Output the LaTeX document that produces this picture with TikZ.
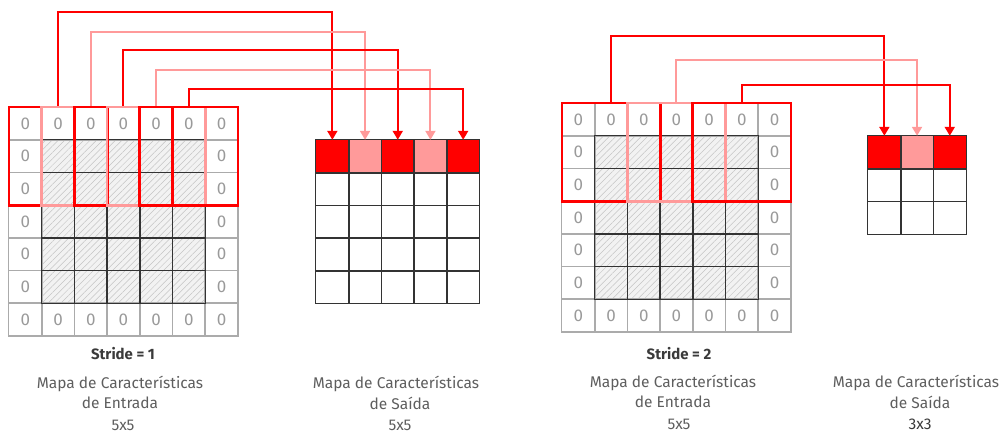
\documentclass[tikz,border=0pt]{standalone}
\usepackage{fontspec}
\setmainfont{Fira Sans}
\usetikzlibrary{arrows.meta,patterns.meta,fit}
\definecolor{kred}{HTML}{FF0000}
\definecolor{kpink}{HTML}{FF9A9A}
\definecolor{zgray}{HTML}{9A9A9A}
\definecolor{lgray}{HTML}{ABABAB}
\definecolor{tgray}{HTML}{5E5E5E}
\definecolor{sgray}{HTML}{3A3A3A}
\definecolor{hatchbg}{HTML}{F2F2F2}
\definecolor{hatchln}{HTML}{C4C4C4}
\tikzset{
  x=1pt, y=-1pt,
  padcell/.style={minimum size=32.7pt, inner sep=0pt, text=zgray, font=\fontsize{17}{17}\selectfont},
  incell/.style={minimum size=32.7pt, inner sep=0pt, preaction={fill=hatchbg},
     pattern={Lines[angle=45,distance=4.5pt,line width=0.5pt]}, pattern color=hatchln},
  padline/.style={draw=lgray, line width=1.3pt},
  inline/.style={draw=black!80, line width=1.3pt},
  outcell/.style={minimum size=32.7pt, inner sep=0pt},
  win/.style={draw=#1, line width=2.6pt, inner sep=0pt},
  conn/.style={draw=#1, line width=2pt, -{Triangle[width=10pt,length=9pt]}},
  lbl/.style={text=tgray, font=\fontsize{15.5}{15.5}\selectfont, inner sep=0pt},
  strd/.style={text=sgray, font=\bfseries\fontsize{15}{15}\selectfont, inner sep=0pt},
}
\begin{document}
\begin{tikzpicture}
\useasboundingbox (0,0) rectangle (1008,434);
% ---------- input grids ----------
\foreach \P/\xo/\yo in {L/9/107, R/562/103} {
  \foreach \r in {0,...,6} {
    \foreach \c in {0,...,6} {
      \pgfmathtruncatemacro{\isin}{(\r>0)&&(\r<6)&&(\c>0)&&(\c<6)}
      \ifnum\isin=0
        \node[padcell] (\P-\r-\c) at ({\xo+(\c+0.5)*32.7},{\yo+(\r+0.5)*32.7}) {0};
      \else
        \node[incell] (\P-\r-\c) at ({\xo+(\c+0.5)*32.7},{\yo+(\r+0.5)*32.7}) {};
      \fi
    }
  }
  \foreach \r in {0,...,6} {
    \foreach \c in {0,...,6} {
      \draw[padline] (\P-\r-\c.north west) rectangle (\P-\r-\c.south east);
    }
  }
  \foreach \r in {1,...,5} {
    \foreach \c in {1,...,5} {
      \draw[inline] (\P-\r-\c.north west) rectangle (\P-\r-\c.south east);
    }
  }
}
% ---------- output grids ----------
\foreach \r in {0,...,4} {
  \foreach \c in {0,...,4} {
    \node[outcell] (OL-\r-\c) at ({316+(\c+0.5)*32.7},{140+(\r+0.5)*32.7}) {};
  }
}
\foreach \r in {0,...,2} {
  \foreach \c in {0,...,2} {
    \node[outcell] (OR-\r-\c) at ({868+(\c+0.5)*32.7},{136+(\r+0.5)*32.7}) {};
  }
}
\foreach \c/\col in {0/kred,1/kpink,2/kred,3/kpink,4/kred} {
  \fill[\col] (OL-0-\c.north west) rectangle (OL-0-\c.south east);
}
\foreach \c/\col in {0/kred,1/kpink,2/kred} {
  \fill[\col] (OR-0-\c.north west) rectangle (OR-0-\c.south east);
}
\foreach \r in {0,...,4} {
  \foreach \c in {0,...,4} {
    \draw[inline] (OL-\r-\c.north west) rectangle (OL-\r-\c.south east);
  }
}
\foreach \r in {0,...,2} {
  \foreach \c in {0,...,2} {
    \draw[inline] (OR-\r-\c.north west) rectangle (OR-\r-\c.south east);
  }
}
% ---------- windows (stride 1) ----------
\node[win=kred,  fit=(L-0-0)(L-2-2)] (LW1) {};
\node[win=kpink, fit=(L-0-1)(L-2-3)] (LW2) {};
\node[win=kred,  fit=(L-0-2)(L-2-4)] (LW3) {};
\node[win=kpink, fit=(L-0-3)(L-2-5)] (LW4) {};
\node[win=kred,  fit=(L-0-4)(L-2-6)] (LW5) {};
% ---------- windows (stride 2) ----------
\node[win=kred,  fit=(R-0-0)(R-2-2)] (RW1) {};
\node[win=kpink, fit=(R-0-2)(R-2-4)] (RW2) {};
\node[win=kred,  fit=(R-0-4)(R-2-6)] (RW3) {};
% ---------- connectors ----------
\draw[conn=kred]  (LW1.north) -- (LW1.north |- 0,12) -| (OL-0-0.north);
\draw[conn=kpink] (LW2.north) -- (LW2.north |- 0,32) -| (OL-0-1.north);
\draw[conn=kred]  (LW3.north) -- (LW3.north |- 0,50) -| (OL-0-2.north);
\draw[conn=kpink] (LW4.north) -- (LW4.north |- 0,70) -| (OL-0-3.north);
\draw[conn=kred]  (LW5.north) -- (LW5.north |- 0,89) -| (OL-0-4.north);
\draw[conn=kred]  (RW1.north) -- (RW1.north |- 0,36) -| (OR-0-0.north);
\draw[conn=kpink] (RW2.north) -- (RW2.north |- 0,60) -| (OR-0-1.north);
\draw[conn=kred]  (RW3.north) -- (RW3.north |- 0,85) -| (OR-0-2.north);
% ---------- labels ----------
\node[strd] (s1) at (123,354) {Stride = 1};
\node[lbl] (a1) at (120,384) {Mapa de Características};
\node[lbl] (b1) at (120,403) {de Entrada};
\node[lbl] (c1) at (123,425) {5x5};
\node[lbl] (a2) at (396,384) {Mapa de Características};
\node[lbl] (b2) at (400,403) {de Saída};
\node[lbl] (c2) at (400,425) {5x5};
\node[strd] (s2) at (679,354) {Stride = 2};
\node[lbl] (a3) at (673,383) {Mapa de Características};
\node[lbl] (b3) at (673,402) {de Entrada};
\node[lbl] (c3) at (679,424) {5x5};
\node[lbl] (a4) at (916,383) {Mapa de Características};
\node[lbl] (b4) at (920,402) {de Saída};
\node[lbl, text=sgray] (c4) at (920,424) {3x3};
\end{tikzpicture}
\end{document}
